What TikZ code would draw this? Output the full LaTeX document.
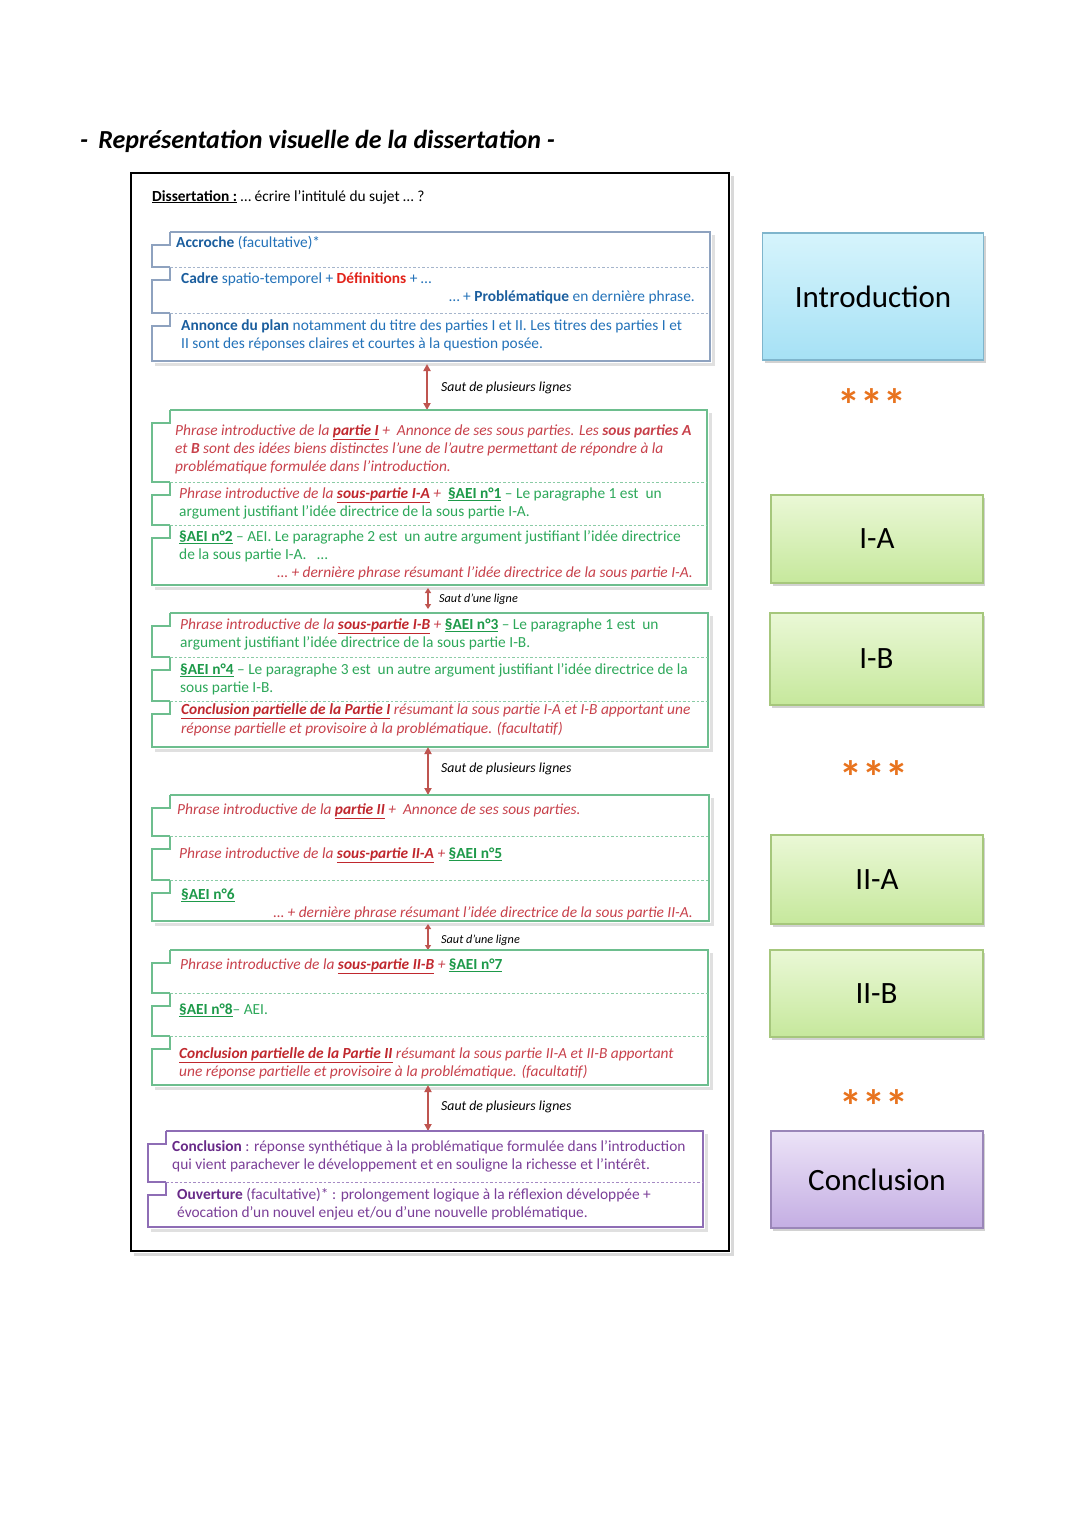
\documentclass[tikz,border=0pt]{standalone}
\usepackage{fontspec}
\setmainfont{Carlito}
\usetikzlibrary{arrows.meta,shadows}
\definecolor{ibl}{HTML}{2372B9}
\definecolor{ibld}{HTML}{1B5E9E}
\definecolor{dred}{HTML}{E2231A}
\definecolor{pred}{HTML}{C8414B}
\definecolor{predd}{HTML}{C0282E}
\definecolor{pgreen}{HTML}{2DA85A}
\definecolor{pgreend}{HTML}{1E9A4A}
\definecolor{ppur}{HTML}{7B3F98}
\definecolor{ppurd}{HTML}{682A88}
\definecolor{iline}{HTML}{8EA2BF}
\definecolor{gline}{HTML}{6DBE8E}
\definecolor{uline}{HTML}{8E6DB5}
\definecolor{arr}{HTML}{BF5550}
\definecolor{orng}{HTML}{E8731E}
\definecolor{bluetop}{HTML}{D6F4FC}
\definecolor{bluebot}{HTML}{A6E1F5}
\definecolor{blueedge}{HTML}{7FB5CC}
\definecolor{greentop}{HTML}{EAF8D6}
\definecolor{greenbot}{HTML}{C6E89C}
\definecolor{greenedge}{HTML}{A6C77C}
\definecolor{purtop}{HTML}{ECE3F7}
\definecolor{purbot}{HTML}{C4AEE3}
\definecolor{puredge}{HTML}{9A86B8}
\newcommand{\myul}[1]{\underline{#1}}
\newcommand{\rd}[1]{\textcolor{pred}{\itshape #1}}
\newcommand{\rdb}[1]{\textcolor{predd}{\bfseries\itshape\myul{#1}}}
\newcommand{\gr}[1]{\textcolor{pgreen}{#1}}
\newcommand{\grb}[1]{\textcolor{pgreend}{\bfseries\myul{#1}}}
\tikzset{
  txt/.style={inner sep=0pt, anchor=base west, font=\fontsize{15.4}{18}\selectfont},
  txtr/.style={txt, anchor=base east},
  lbl/.style={inner sep=0pt, anchor=base west, font=\fontsize{13.8}{16}\selectfont\itshape},
  lbls/.style={inner sep=0pt, anchor=base west, font=\fontsize{12.2}{14}\selectfont\itshape},
  iedge/.style={draw=iline, line width=1.4pt},
  gedge/.style={draw=gline, line width=1.4pt},
  uedge/.style={draw=uline, line width=1.4pt},
  idash/.style={draw=iline!80, line width=0.9pt, dash pattern=on 2.5pt off 2pt},
  gdash/.style={draw=gline!80, line width=0.9pt, dash pattern=on 2.5pt off 2pt},
  udash/.style={draw=uline!80, line width=0.9pt, dash pattern=on 2.5pt off 2pt},
  shad/.style={draw=black!12, line width=3pt},
  sautarrow/.style={draw=arr, line width=1.8pt, {Triangle[length=7pt,width=7pt]}-{Triangle[length=7pt,width=7pt]}},
  sautarrows/.style={draw=arr, line width=1.5pt, {Triangle[length=5pt,width=6pt]}-{Triangle[length=5pt,width=6pt]}},
  rbox/.style={rectangle, line width=1.2pt, drop shadow={opacity=0.35, shadow xshift=2pt, shadow yshift=-3pt}, font=\fontsize{31}{34}\selectfont, inner sep=0pt},
  bluebox/.style={rbox, draw=blueedge, top color=bluetop, bottom color=bluebot},
  greenbox/.style={rbox, draw=greenedge, top color=greentop, bottom color=greenbot},
  purbox/.style={rbox, draw=puredge, top color=purtop, bottom color=purbot},
  stars/.style={inner sep=0pt, anchor=base, text=orng, font=\fontsize{46}{46}\selectfont\bfseries}
}
\begin{document}
\begin{tikzpicture}[x=1pt,y=-1pt]
\useasboundingbox (0,0) rectangle (1080,1527);
\fill[white] (0,0) rectangle (1080,1527);

% title
\node[inner sep=0pt, anchor=base west, font=\fontsize{26}{30}\selectfont\bfseries\itshape] (title) at (80,148) {-\, Représentation visuelle de la dissertation -};

% outer frame
\draw[black!15, line width=3pt] (134,1254) -- (732,1254) -- (732,176);
\draw[black, line width=2pt] (131,173) rectangle (729,1251);
\coordinate (frame) at (131,173);

\node[txt] (diss) at (152,201) {\textbf{\myul{Dissertation :}} … écrire l’intitulé du sujet … ?};

% ---------- Intro block ----------
\draw[shad] (155,364) -- (713,364) -- (713,235);
\fill[white] (152,232) rectangle (710,361);
\foreach \t/\b in {232/267,267/313,313/361}
  \draw[iedge] (170,\t) -- (170,\t+13) -- (152,\t+13) -- (152,\b) -- (170,\b);
\draw[iedge] (170,232) -- (710,232) -- (710,361) -- (152,361);
\foreach \y in {267,313} \draw[idash] (170,\y) -- (710,\y);
\begin{scope}[every node/.style={txt, text=ibl}]
\node (i1) at (176,247) {\textcolor{ibld}{\textbf{Accroche}} (facultative)*};
\node (i2) at (181,283) {\textcolor{ibld}{\textbf{Cadre}} spatio-temporel + \textcolor{dred}{\textbf{Définitions}} + …};
\node[anchor=base east] (i3) at (695,301) {… + \textcolor{ibld}{\textbf{Problématique}} en dernière phrase.};
\node (i4) at (181,330) {\textcolor{ibld}{\textbf{Annonce du plan}} notamment du titre des parties I et II. Les titres des parties I et};
\node (i5) at (181,348) {II sont des réponses claires et courtes à la question posée.};
\end{scope}

% arrow 1
\coordinate (a1s) at (427,364);
\coordinate (a1e) at (427,410);
\draw[sautarrow] (a1s) -- (a1e);
\node[lbl] (l1) at (441,391) {Saut de plusieurs lignes};

% ---------- Part I-A block ----------
\draw[shad] (155,588) -- (710,588) -- (710,413);
\fill[white] (152,410) rectangle (707,585);
\foreach \t/\b in {410/482,482/525,525/585}
  \draw[gedge] (170,\t) -- (170,\t+13) -- (152,\t+13) -- (152,\b) -- (170,\b);
\draw[gedge] (170,410) -- (707,410) -- (707,585) -- (152,585);
\foreach \y in {482,525} \draw[gdash] (170,\y) -- (707,\y);
\node[txt] (p1) at (175,435) {\rd{Phrase introductive de la \rdb{partie I} +\ \ Annonce de ses sous parties. Les \textbf{sous parties A}}};
\node[txt] (p2) at (175,453) {\rd{et \textbf{B} sont des idées biens distinctes l’une de l’autre permettant de répondre à la}};
\node[txt] (p3) at (175,471) {\rd{problématique formulée dans l’introduction.}};
\node[txt] (p4) at (179,498) {\rd{Phrase introductive de la \rdb{sous-partie I-A} +}\ \ \grb{§AEI n°1} \gr{– Le paragraphe 1 est\ \ un}};
\node[txt] (p5) at (179,516) {\gr{argument justifiant l’idée directrice de la sous partie I-A.}};
\node[txt] (p6) at (179,541) {\grb{§AEI n°2} \gr{– AEI. Le paragraphe 2 est\ \ un autre argument justifiant l’idée directrice}};
\node[txt] (p7) at (179,559) {\gr{de la sous partie I-A.\ \ \ …}};
\node[txtr] (p8) at (693,577) {\rd{… + dernière phrase résumant l’idée directrice de la sous partie I-A.}};

% arrow 2
\coordinate (a2s) at (428,588);
\coordinate (a2e) at (428,609);
\draw[sautarrows] (a2s) -- (a2e);
\node[lbls] (l2) at (439,602) {Saut d’une ligne};

% ---------- Part I-B block ----------
\draw[shad] (155,750) -- (711,750) -- (711,616);
\fill[white] (152,613) rectangle (708,747);
\foreach \t/\b in {613/657,657/701,701/747}
  \draw[gedge] (170,\t) -- (170,\t+13) -- (152,\t+13) -- (152,\b) -- (170,\b);
\draw[gedge] (170,613) -- (708,613) -- (708,747) -- (152,747);
\foreach \y in {657,701} \draw[gdash] (170,\y) -- (708,\y);
\node[txt] (q1) at (180,629) {\rd{Phrase introductive de la \rdb{sous-partie I-B} +} \grb{§AEI n°3} \gr{– Le paragraphe 1 est\ \ un}};
\node[txt] (q2) at (180,647) {\gr{argument justifiant l’idée directrice de la sous partie I-B.}};
\node[txt] (q3) at (180,674) {\grb{§AEI n°4} \gr{– Le paragraphe 3 est\ \ un autre argument justifiant l’idée directrice de la}};
\node[txt] (q4) at (180,692) {\gr{sous partie I-B.}};
\node[txt] (q5) at (181,714) {\rd{\rdb{Conclusion partielle de la Partie I} résumant la sous partie I-A et I-B apportant une}};
\node[txt] (q6) at (181,733) {\rd{réponse partielle et provisoire à la problématique. (facultatif)}};

% arrow 3
\coordinate (a3s) at (428,747);
\coordinate (a3e) at (428,795);
\draw[sautarrow] (a3s) -- (a3e);
\node[lbl] (l3) at (441,772) {Saut de plusieurs lignes};

% ---------- Part II-A block ----------
\draw[shad] (155,924) -- (712,924) -- (712,798);
\fill[white] (152,795) rectangle (709,921);
\foreach \t/\b in {795/836,836/880,880/921}
  \draw[gedge] (170,\t) -- (170,\t+13) -- (152,\t+13) -- (152,\b) -- (170,\b);
\draw[gedge] (170,795) -- (709,795) -- (709,921) -- (152,921);
\foreach \y in {836,880} \draw[gdash] (170,\y) -- (709,\y);
\node[txt] (r1) at (177,814) {\rd{Phrase introductive de la \rdb{partie II} +\ \ Annonce de ses sous parties.}};
\node[txt] (r2) at (179,858) {\rd{Phrase introductive de la \rdb{sous-partie II-A} +} \grb{§AEI n°5}};
\node[txt] (r3) at (181,899) {\grb{§AEI n°6}};
\node[txtr] (r4) at (693,917) {\rd{… + dernière phrase résumant l’idée directrice de la sous partie II-A.}};

% arrow 4
\coordinate (a4s) at (428,924);
\coordinate (a4e) at (428,950);
\draw[sautarrows] (a4s) -- (a4e);
\node[lbls] (l4) at (441,943) {Saut d’une ligne};

% ---------- Part II-B block ----------
\draw[shad] (155,1088) -- (711,1088) -- (711,953);
\fill[white] (152,950) rectangle (708,1085);
\foreach \t/\b in {950/993,993/1036,1036/1085}
  \draw[gedge] (170,\t) -- (170,\t+13) -- (152,\t+13) -- (152,\b) -- (170,\b);
\draw[gedge] (170,950) -- (708,950) -- (708,1085) -- (152,1085);
\foreach \y in {993,1036} \draw[gdash] (170,\y) -- (708,\y);
\node[txt] (s1) at (180,969) {\rd{Phrase introductive de la \rdb{sous-partie II-B} +} \grb{§AEI n°7}};
\node[txt] (s2) at (179,1014) {\grb{§AEI n°8}\gr{– AEI.}};
\node[txt] (s3) at (179,1058) {\rd{\rdb{Conclusion partielle de la Partie II} résumant la sous partie II-A et II-B apportant}};
\node[txt] (s4) at (179,1076) {\rd{une réponse partielle et provisoire à la problématique. (facultatif)}};

% arrow 5
\coordinate (a5s) at (428,1085);
\coordinate (a5e) at (428,1131);
\draw[sautarrow] (a5s) -- (a5e);
\node[lbl] (l5) at (441,1110) {Saut de plusieurs lignes};

% ---------- Conclusion block ----------
\draw[shad] (151,1230) -- (706,1230) -- (706,1134);
\fill[white] (148,1131) rectangle (703,1227);
\foreach \t/\b in {1131/1182,1182/1227}
  \draw[uedge] (166,\t) -- (166,\t+13) -- (148,\t+13) -- (148,\b) -- (166,\b);
\draw[uedge] (166,1131) -- (703,1131) -- (703,1227) -- (148,1227);
\draw[udash] (166,1182) -- (703,1182);
\begin{scope}[every node/.style={txt, text=ppur}]
\node (c1) at (172,1151) {\textcolor{ppurd}{\textbf{Conclusion}} : réponse synthétique à la problématique formulée dans l’introduction};
\node (c2) at (172,1169) {qui vient parachever le développement et en souligne la richesse et l’intérêt.};
\node (c3) at (177,1199) {\textcolor{ppurd}{\textbf{Ouverture}} (facultative)* : prolongement logique à la réflexion développée +};
\node (c4) at (177,1217) {évocation d’un nouvel enjeu et/ou d’une nouvelle problématique.};
\end{scope}

% ---------- Right column ----------
\node[bluebox, minimum width=221pt, minimum height=127pt] (bintro) at (873,296.5) {Introduction};
\node[stars] (st1) at (872,421) {***};
\node[greenbox, minimum width=212pt, minimum height=88pt] (bia) at (877,539) {I-A};
\node[greenbox, minimum width=213pt, minimum height=92pt] (bib) at (876.5,659) {I-B};
\node[stars] (st2) at (874,793) {***};
\node[greenbox, minimum width=212pt, minimum height=89pt] (biia) at (877,879.5) {II-A};
\node[greenbox, minimum width=213pt, minimum height=87pt] (biib) at (876.5,993.5) {II-B};
\node[stars] (st3) at (874,1122) {***};
\node[purbox, minimum width=212pt, minimum height=97pt] (bconc) at (877,1179.5) {Conclusion};
\end{tikzpicture}
\end{document}
